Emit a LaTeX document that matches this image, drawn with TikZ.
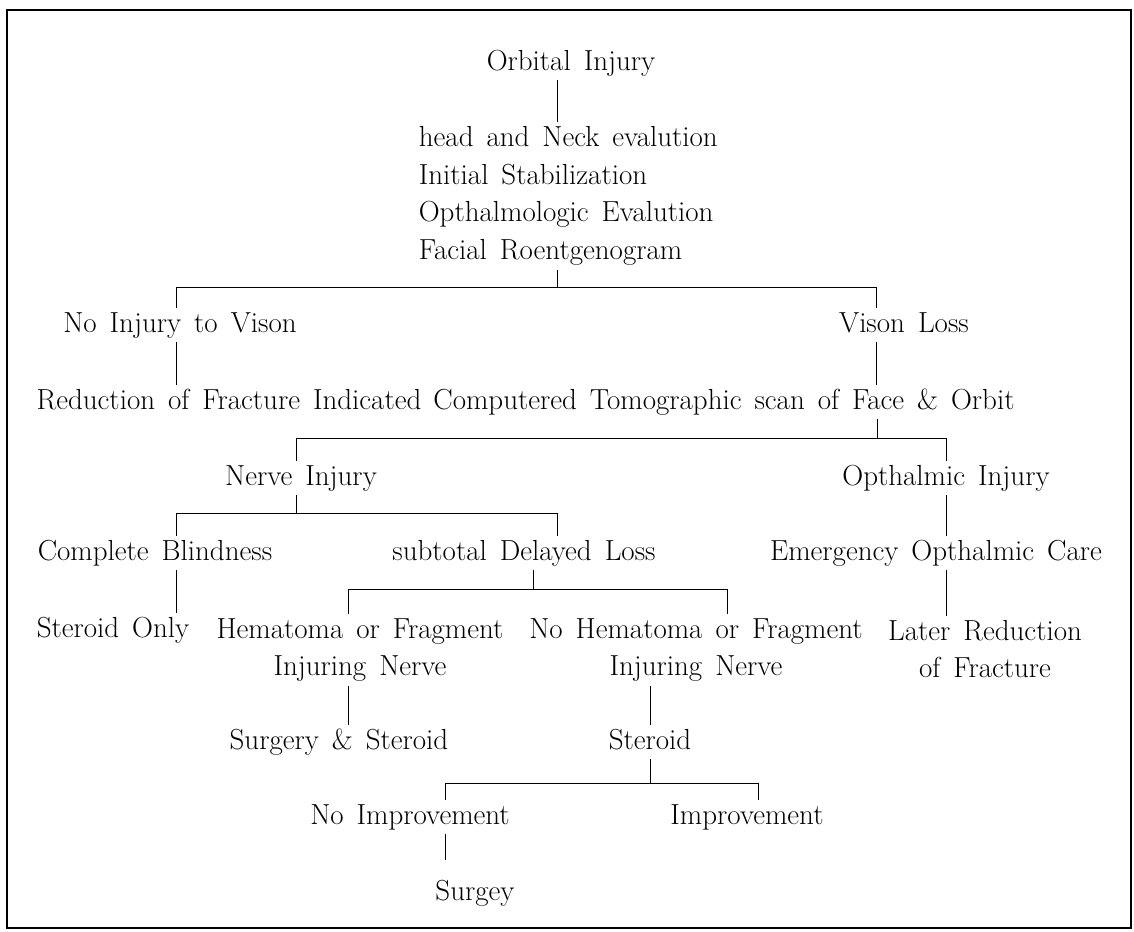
\documentclass[tikz,border=0pt]{standalone}
\usepackage{fontspec}
\usepackage{tikz}
\usetikzlibrary{positioning,calc}
\newcommand\lblfont{\fontsize{16.5}{21.5}\selectfont\spaceskip=7.4pt\relax}

\begin{document}
\begin{tikzpicture}[x=0.02cm,y=-0.02cm,
  lbl/.style={inner sep=2pt,text height=12pt,text depth=3.5pt,font=\lblfont},
  two/.style={inner sep=2pt,align=center,font=\lblfont},
  blk/.style={inner sep=2pt,align=left,anchor=west,font=\lblfont},
  ln/.style={line width=0.5pt}]
\useasboundingbox (0,0) rectangle (1134,931);
\draw[line width=0.8pt] (7,10) rectangle (1131,928);
\node[lbl] (orbital) at (571,63) {Orbital Injury};
\node[blk] (evals) at (415,196) {head and Neck evalution\\Initial Stabilization\\Opthalmologic Evalution\\Facial Roentgenogram};
\node[lbl] (noinj) at (180,325) {No Injury to Vison};
\node[lbl] (visloss) at (904,325) {Vison Loss};
\node[lbl] (redfx) at (229,402) {Reduction of Fracture Indicated};
\node[lbl] (ctscan) at (724,402) {Computered Tomographic scan of Face \& Orbit};
\node[lbl] (nerve) at (301,478) {Nerve Injury};
\node[lbl] (opthinj) at (946,478) {Opthalmic Injury};
\node[lbl] (blind) at (155,553) {Complete Blindness};
\node[lbl] (subtot) at (524,553) {subtotal Delayed Loss};
\node[lbl] (emerg) at (936,553) {Emergency Opthalmic Care};
\node[lbl] (steronly) at (113,630) {Steroid Only};
\node[two] (hema) at (360,650) {Hematoma or Fragment\\Injuring Nerve};
\node[two] (nohema) at (696,650) {No Hematoma or Fragment\\Injuring Nerve};
\node[two] (later) at (985,649) {Later Reduction\\of Fracture};
\node[lbl] (surgst) at (339,742) {Surgery \& Steroid};
\node[lbl] (steroid) at (650,742) {Steroid};
\node[lbl] (noimp) at (410,817) {No Improvement};
\node[lbl] (improve) at (747,817) {Improvement};
\node[lbl] (surgey) at (475,893) {Surgey};
\coordinate (b1l) at (176,287); \coordinate (b1m) at (557,287); \coordinate (b1r) at (876,287);
\coordinate (b2l) at (296,438); \coordinate (b2m) at (877,438); \coordinate (b2r) at (946,438);
\coordinate (b3l) at (176,513); \coordinate (b3m) at (296,513); \coordinate (b3r) at (557,513);
\coordinate (b4l) at (348,589); \coordinate (b4m) at (533,589); \coordinate (b4r) at (727,589);
\coordinate (b5l) at (445,783); \coordinate (b5m) at (650,783); \coordinate (b5r) at (758,783);
\draw[ln] (orbital.south -| b1m) -- (evals.north -| b1m);
\draw[ln] (evals.south -| b1m) -- (b1m);
\draw[ln] (noinj.north -| b1l) -- (b1l) -- (b1r) -- (visloss.north -| b1r);
\draw[ln] (noinj.south -| b1l) -- (redfx.north -| b1l);
\draw[ln] (visloss.south -| b1r) -- (ctscan.north -| b1r);
\draw[ln] (ctscan.south -| b2m) -- (b2m);
\draw[ln] (nerve.north -| b2l) -- (b2l) -- (b2r) -- (opthinj.north -| b2r);
\draw[ln] (nerve.south -| b3m) -- (b3m);
\draw[ln] (blind.north -| b3l) -- (b3l) -- (b3r) -- (subtot.north -| b3r);
\draw[ln] (opthinj.south -| b2r) -- (emerg.north -| b2r);
\draw[ln] (blind.south -| b3l) -- (steronly.north -| b3l);
\draw[ln] (subtot.south -| b4m) -- (b4m);
\draw[ln] (hema.north -| b4l) -- (b4l) -- (b4r) -- (nohema.north -| b4r);
\draw[ln] (emerg.south -| b2r) -- (later.north -| b2r);
\draw[ln] (hema.south -| b4l) -- (surgst.north -| b4l);
\draw[ln] (nohema.south -| steroid) -- (steroid.north);
\draw[ln] (steroid.south) -- (b5m);
\draw[ln] (noimp.north -| b5l) -- (b5l) -- (b5r) -- (improve.north -| b5r);
\draw[ln,shorten >=9pt] (noimp.south -| b5l) -- (surgey.north -| b5l);
\end{tikzpicture}
\end{document}
